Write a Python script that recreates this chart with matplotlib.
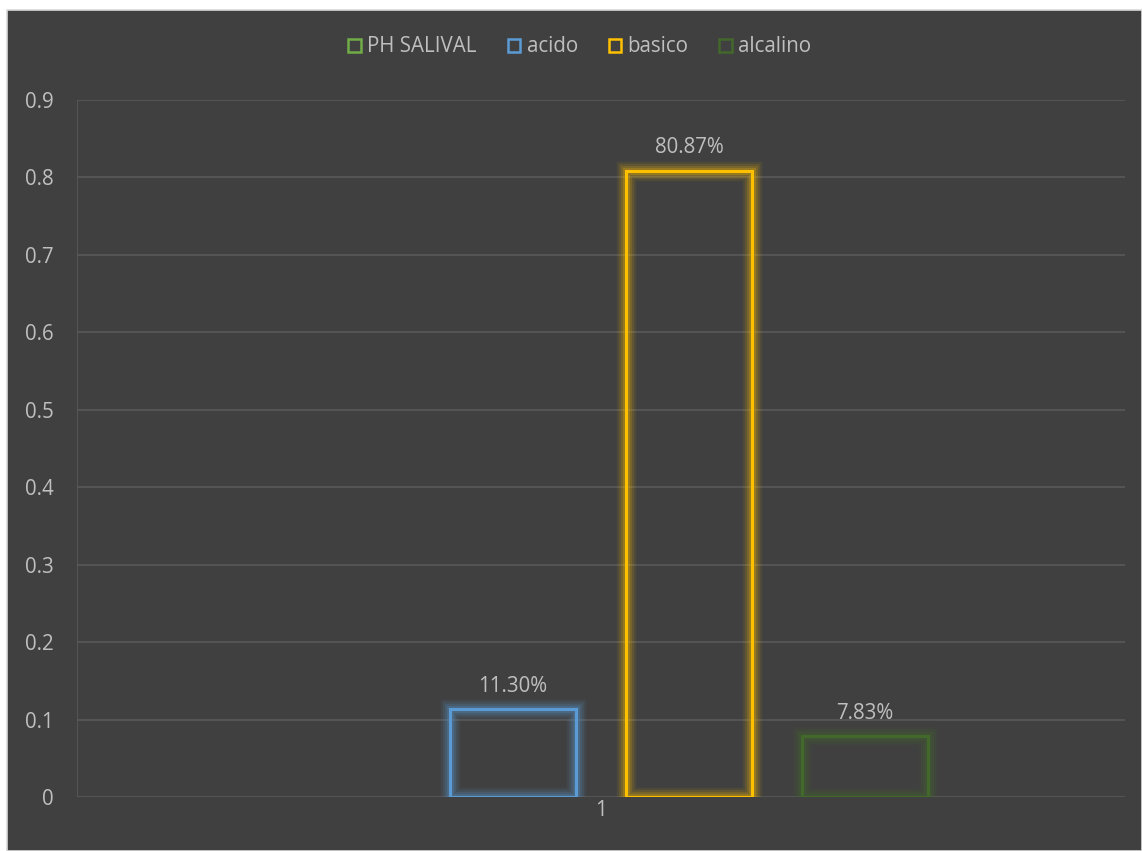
import matplotlib
matplotlib.use("Agg")
import matplotlib.pyplot as plt
from matplotlib.patches import Rectangle, Patch
import numpy as np

plt.rcParams['font.family'] = ['Open Sans', 'DejaVu Sans']

# Data
categories = ["1"]
series_names = ["PH SALIVAL", "acido", "basico", "alcalino"]
series_values = [np.nan, 0.1130, 0.8087, 0.0783]
series_colors = ["#70AD47", "#5B9BD5", "#FFC000", "#43682B"]
y_ticks = [0, 0.1, 0.2, 0.3, 0.4, 0.5, 0.6, 0.7, 0.8, 0.9]

W, H = 1142, 851
bg = "#404040"
text_color = "#BFBFBF"
grid_color = "#595959"
fs = 14.8

fig = plt.figure(figsize=(W / 100, H / 100), dpi=100, facecolor="white")

# Chart area frame
frame = Rectangle((7 / W, 0), 1 - 7 / W, (H - 10) / H, transform=fig.transFigure,
                  facecolor=bg, edgecolor="#D9D9D9", linewidth=1.2, zorder=-5)
fig.patches.append(frame)

left, right, top, bottom = 77, 1125, 100, 797
ax = fig.add_axes([left / W, (H - bottom) / H, (right - left) / W, (bottom - top) / H])
ax.set_zorder(2)
ax.patch.set_alpha(0)

n = len(series_names)
step = 176 / (right - left)
width = 126 / (right - left)

for i, (name, val, col) in enumerate(zip(series_names, series_values, series_colors)):
    x = 0 + (i - (n - 1) / 2) * step
    if np.isnan(val):
        continue
    # soft glow around the outline
    for lw, a in [(14, 0.08), (11, 0.11), (8, 0.15), (5, 0.22)]:
        ax.bar(x, val, width=width, facecolor="none", edgecolor=col, linewidth=lw,
               alpha=a, zorder=2)
    ax.bar(x, val, width=width, facecolor="none", edgecolor=col, linewidth=2.2, zorder=3)
    ax.annotate(f"{val * 100:.2f}%", (x, val), xytext=(0, 9), textcoords="offset points",
                ha="center", va="bottom", color=text_color, fontsize=fs)

ax.set_xlim(-0.5, 0.5)
ax.set_ylim(0, 0.9)
ax.set_yticks(y_ticks)
ax.set_yticklabels([f"{t:g}" for t in y_ticks])
ax.set_xticks([0])
ax.set_xticklabels(categories)
ax.tick_params(axis="both", length=0, colors=text_color, labelsize=fs)
ax.tick_params(axis="y", pad=17)
ax.tick_params(axis="x", pad=2)
ax.yaxis.grid(True, color=grid_color, linewidth=1.2, zorder=1)
ax.set_axisbelow(True)
for s in ["top", "right", "bottom", "left"]:
    ax.spines[s].set_visible(False)
ax.axvline(-0.5, color=grid_color, linewidth=1.2, zorder=1)

handles = [Patch(facecolor="none", edgecolor=c, linewidth=1.8, label=nm)
           for nm, c in zip(series_names, series_colors)]
leg = fig.legend(handles=handles, loc="center", bbox_to_anchor=(580 / W, 1 - 47 / H),
                 ncol=4, frameon=False, fontsize=fs, handlelength=0.62, handleheight=0.62,
                 handletextpad=0.3, columnspacing=1.5)
for t in leg.get_texts():
    t.set_color(text_color)

fig.savefig("out.png", dpi=100, facecolor="white")
